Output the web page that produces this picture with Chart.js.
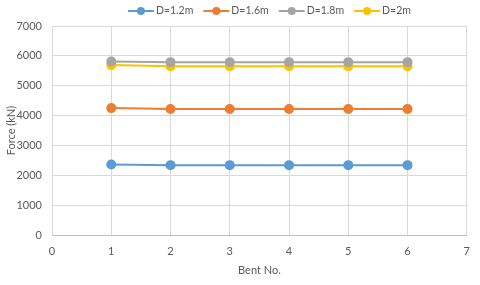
<!DOCTYPE html>
<html><head><meta charset="utf-8">
<script src="https://cdn.jsdelivr.net/npm/chart.js@4"></script>
<style>html,body{margin:0;padding:0;background:#fff}#wrap{width:480px;height:285px}</style>
</head><body><div id="wrap"><canvas id="c" width="480" height="285"></canvas></div>
<script>
const bents = [1, 2, 3, 4, 5, 6];
const seriesNames = ["D=1.2m", "D=1.6m", "D=1.8m", "D=2m"];
const d12 = [2360, 2340, 2340, 2340, 2340, 2340];
const d16 = [4250, 4220, 4220, 4220, 4220, 4220];
const d18 = [5810, 5790, 5790, 5790, 5790, 5790];
const d20 = [5690, 5650, 5650, 5650, 5650, 5650];
const yTicks = [0, 1000, 2000, 3000, 4000, 5000, 6000, 7000];
const xTicks = [0, 1, 2, 3, 4, 5, 6, 7];

const colors = ["#5B9BD5", "#ED7D31", "#A5A5A5", "#FFC000"];
const FONT = "Lato, 'Liberation Sans', sans-serif";
const TXT = "#595959";

const all = [d12, d16, d18, d20];
const datasets = all.map((arr, i) => ({
  label: seriesNames[i],
  data: bents.map((b, j) => ({x: b, y: arr[j]})),
  borderColor: colors[i],
  backgroundColor: colors[i],
  borderWidth: 2,
  pointRadius: 4,
  pointHoverRadius: 4,
  showLine: true,
  tension: 0
}));

// legend drawn as line+marker icons, centred over the plot like the original
const lineLegend = {
  id: 'lineLegend',
  afterDraw(chart) {
    const ctx = chart.ctx;
    ctx.save();
    ctx.font = "10.5px " + FONT;
    const iconW = 26, gapIT = 2, gapItem = 10;
    const items = chart.data.datasets.map(ds => ({ds, w: iconW + gapIT + ctx.measureText(ds.label).width}));
    const total = items.reduce((s, it) => s + it.w, 0) + gapItem * (items.length - 1);
    const ca = chart.chartArea;
    let x = (ca.left + ca.right) / 2 + 10 - total / 2;
    const y = 11;
    items.forEach(it => {
      const c = it.ds.borderColor;
      ctx.strokeStyle = c; ctx.lineWidth = 2;
      ctx.beginPath(); ctx.moveTo(x, y); ctx.lineTo(x + iconW, y); ctx.stroke();
      ctx.fillStyle = c; ctx.beginPath(); ctx.arc(x + iconW / 2, y, 4, 0, Math.PI * 2); ctx.fill();
      ctx.fillStyle = TXT; ctx.textBaseline = 'middle'; ctx.textAlign = 'left';
      ctx.fillText(it.ds.label, x + iconW + gapIT, y);
      x += it.w + gapItem;
    });
    ctx.restore();
  }
};

new Chart(document.getElementById('c'), {
  type: 'scatter',
  data: { datasets },
  plugins: [lineLegend],
  options: {
    responsive: false,
    animation: false,
    devicePixelRatio: 1,
    layout: { padding: { left: 4, right: 12, top: 26, bottom: 4 } },
    plugins: {
      tooltip: { enabled: false },
      legend: { display: false }
    },
    scales: {
      x: {
        type: 'linear', min: 0, max: 7,
        afterBuildTicks: (ax) => { ax.ticks = xTicks.map(v => ({value: v})); },
        afterFit: (ax) => { ax.height = 46; },
        ticks: { color: TXT, font: { family: FONT, size: 11 }, padding: 10, callback: v => String(v) },
        grid: { color: '#D9D9D9', drawTicks: false },
        border: { color: '#BFBFBF' },
        title: { display: true, text: 'Bent No.', color: TXT, font: { family: FONT, size: 11 }, padding: { top: 4, bottom: 4 } }
      },
      y: {
        min: 0, max: 7000,
        afterBuildTicks: (ax) => { ax.ticks = yTicks.map(v => ({value: v})); },
        afterFit: (ax) => { ax.width = 48; },
        ticks: { color: TXT, font: { family: FONT, size: 11 }, padding: 10, callback: v => String(v) },
        grid: { color: '#D9D9D9', drawTicks: false },
        border: { color: '#D9D9D9' },
        title: { display: true, text: 'Force (kN)', color: TXT, font: { family: FONT, size: 11 }, padding: { top: 1, bottom: 0 } }
      }
    }
  }
});
</script></body></html>
